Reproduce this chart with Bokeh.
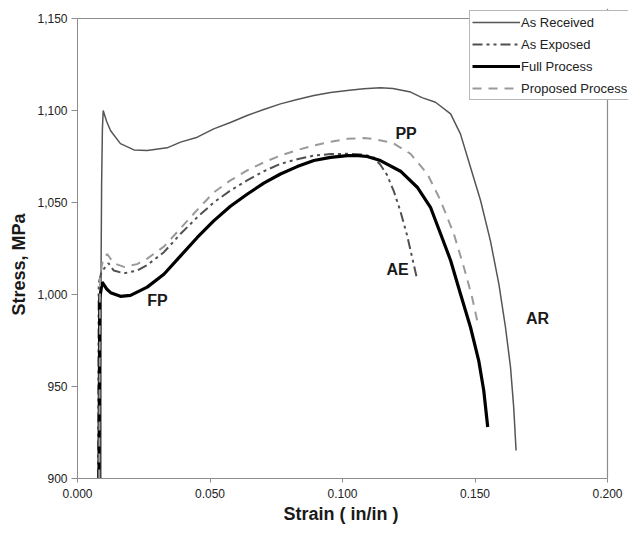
from bokeh.plotting import figure
from bokeh.models import (Legend, LegendItem, Range1d, FixedTicker, CustomJSTickFormatter,
                          Label, Span, Title)
from bokeh.embed import file_html
from bokeh.resources import INLINE

# ---- data ----
ar_strain = [0.0088, 0.0089, 0.0091, 0.0094, 0.0097, 0.0110, 0.0125, 0.0162, 0.0213, 0.0263, 0.0338,
             0.0389, 0.0452, 0.0514, 0.0577, 0.0640, 0.0703, 0.0766, 0.0829, 0.0892, 0.0955,
             0.1018, 0.1080, 0.1143, 0.1190, 0.1257, 0.1300, 0.1351, 0.1408, 0.1445, 0.1483,
             0.1521, 0.1558, 0.1590, 0.1615, 0.1634, 0.1646, 0.1655]
ar_stress = [900, 1015, 1060, 1090, 1100, 1094, 1089, 1082, 1078.6, 1078.3, 1079.7,
             1082.8, 1085.5, 1090, 1093.5, 1097.3, 1100.5, 1103.6, 1106, 1108.2, 1109.8,
             1110.9, 1111.8, 1112.3, 1112, 1110, 1107, 1104.5, 1098.2, 1087.3, 1069.2,
             1051.1, 1029.3, 1005.8, 982.2, 960.5, 938.8, 915.2]

ae_strain = [0.0078, 0.0080, 0.0090, 0.0105, 0.0117, 0.0137, 0.0175, 0.0225, 0.0263, 0.0326,
             0.0389, 0.0452, 0.0514, 0.0577, 0.0640, 0.0703, 0.0766, 0.0829, 0.0892, 0.0955,
             0.1018, 0.1080, 0.1118, 0.1143, 0.1168, 0.1194, 0.1219, 0.1244, 0.1263, 0.1282]
ae_stress = [900, 1006, 1012, 1015, 1017, 1013, 1011.5, 1013, 1016, 1023,
             1033, 1042, 1050, 1056.5, 1062, 1067, 1071, 1073.5, 1075.5, 1076.3,
             1076.5, 1076, 1074.5, 1070.5, 1065, 1056, 1045, 1032, 1020, 1008]

fp_strain = [0.0081, 0.0084, 0.0093, 0.0110, 0.0125, 0.0162, 0.0200, 0.0263, 0.0326, 0.0389,
             0.0452, 0.0514, 0.0577, 0.0640, 0.0703, 0.0766, 0.0829, 0.0892, 0.0955, 0.1018,
             0.1060, 0.1093, 0.1143, 0.1219, 0.1282, 0.1332, 0.1370, 0.1408, 0.1445, 0.1483,
             0.1514, 0.1533, 0.1548]
fp_stress = [900, 998, 1006.7, 1003, 1001, 999, 999.5, 1004, 1011, 1021,
             1031, 1040, 1048, 1054.5, 1060.5, 1065.5, 1069.5, 1072.8, 1074.5, 1075.5,
             1075.5, 1075, 1072.8, 1067, 1058.3, 1047.4, 1033, 1018.5, 1000.4, 982.2,
             964.1, 947.8, 928]

pp_strain = [0.0082, 0.0085, 0.0095, 0.0112, 0.0137, 0.0175, 0.0225, 0.0263, 0.0326, 0.0389,
             0.0452, 0.0514, 0.0577, 0.0640, 0.0703, 0.0766, 0.0829, 0.0892, 0.0955, 0.1018,
             0.1080, 0.1118, 0.1168, 0.1194, 0.1257, 0.1320, 0.1370, 0.1420, 0.1458, 0.1489, 0.1508]
pp_stress = [900, 1010, 1018, 1022, 1017, 1015, 1016.5, 1019.5, 1026, 1036,
             1046, 1055.5, 1062, 1067.4, 1071.8, 1075.5, 1078.5, 1081, 1083, 1084.6,
             1085, 1084.5, 1083, 1082, 1076.4, 1065.6, 1051.1, 1033, 1014.8, 998.5, 986]

series_names = ["As Received", "As Exposed", "Full Process", "Proposed Process"]
x_ticks = [0.0, 0.05, 0.1, 0.15, 0.2]
y_ticks = [900, 950, 1000, 1050, 1100, 1150]
x_min, x_max = 0.0, 0.2
y_min, y_max = 900, 1150

curve_labels = ["PP", "AE", "FP", "AR"]
label_x = [0.1240, 0.1208, 0.0302, 0.1736]
label_y = [1087.5, 1013.6, 996.7, 987.0]

FONT = "Liberation Sans"
GRAY = "#8c8c8c"

# data area: 530 x 460 px; the frame is padded right and up so the legend can overhang it
FW_DATA, FH_DATA = 530, 460
FW, FH = 551, 470
x_end = x_min + (x_max - x_min) * FW / FW_DATA
y_end = y_min + (y_max - y_min) * FH / FH_DATA

p = figure(frame_width=FW, frame_height=FH,
           min_border_left=77, min_border_right=0, min_border_top=8, min_border_bottom=49,
           x_range=Range1d(x_min, x_end), y_range=Range1d(y_min, y_end),
           output_backend="svg", toolbar_location=None,
           background_fill_color="white", border_fill_color="white")

p.grid.visible = False
p.outline_line_color = None

# plot-area border (top and right) of the original chart
p.add_layout(Span(location=y_max, dimension="width", line_color=GRAY, line_width=1.2))
p.add_layout(Span(location=x_max, dimension="height", line_color=GRAY, line_width=1.2))

r_ar = p.line(ar_strain, ar_stress, line_color="#555555", line_width=1.5)
r_ae = p.line(ae_strain, ae_stress, line_color="#505050", line_width=2, line_dash="10 4 3 4 3 4")
r_fp = p.line(fp_strain, fp_stress, line_color="#000000", line_width=3.2)
r_pp = p.line(pp_strain, pp_stress, line_color="#9a9a9a", line_width=2, line_dash="9 7")

for t, lx, ly in zip(curve_labels, label_x, label_y):
    p.add_layout(Label(x=lx, y=ly, text=t, text_font=FONT, text_font_style="bold",
                       text_font_size="16px", text_color="#1a1a1a",
                       text_align="center", text_baseline="middle"))

for ax in (p.xaxis[0], p.yaxis[0]):
    ax.axis_line_color = GRAY
    ax.major_tick_line_color = GRAY
    ax.minor_tick_line_color = None
    ax.major_tick_in = 0
    ax.major_label_text_font = FONT
    ax.major_label_text_font_size = "12px"
    ax.major_label_text_color = "#222222"

p.xaxis[0].bounds = (x_min, x_max)
p.xaxis[0].ticker = FixedTicker(ticks=x_ticks)
p.xaxis[0].formatter = CustomJSTickFormatter(code="return tick.toFixed(3);")
p.xaxis[0].major_tick_out = 4
p.xaxis[0].major_label_standoff = 6

p.yaxis[0].bounds = (y_min, y_max)
p.yaxis[0].ticker = FixedTicker(ticks=y_ticks)
p.yaxis[0].formatter = CustomJSTickFormatter(code="return tick.toLocaleString('en-US');")
p.yaxis[0].major_tick_out = 6
p.yaxis[0].major_label_standoff = 4

# axis titles, centred on the data area (not the padded frame)
p.add_layout(Title(text="Strain ( in/in )", align="left", offset=206, standoff=2,
                   text_font=FONT, text_font_style="bold", text_font_size="18px",
                   text_color="#1a1a1a"), "below")
p.add_layout(Title(text="Stress, MPa", align="left", offset=163, standoff=11,
                   text_font=FONT, text_font_style="bold", text_font_size="18px",
                   text_color="#1a1a1a"), "left")

legend = Legend(items=[LegendItem(label=n, renderers=[r]) for n, r in
                       zip(series_names, [r_ar, r_ae, r_fp, r_pp])],
                location=(392, 378), orientation="vertical",
                border_line_color="#6e6e6e", border_line_width=1,
                background_fill_color="white", background_fill_alpha=1,
                label_text_font=FONT, label_text_font_size="13px", label_text_color="#222222",
                glyph_width=48, glyph_height=18, label_height=18, label_standoff=1,
                spacing=4, padding=2, margin=0)
p.add_layout(legend, "center")

open("out.html", "w").write(file_html(p, INLINE))
